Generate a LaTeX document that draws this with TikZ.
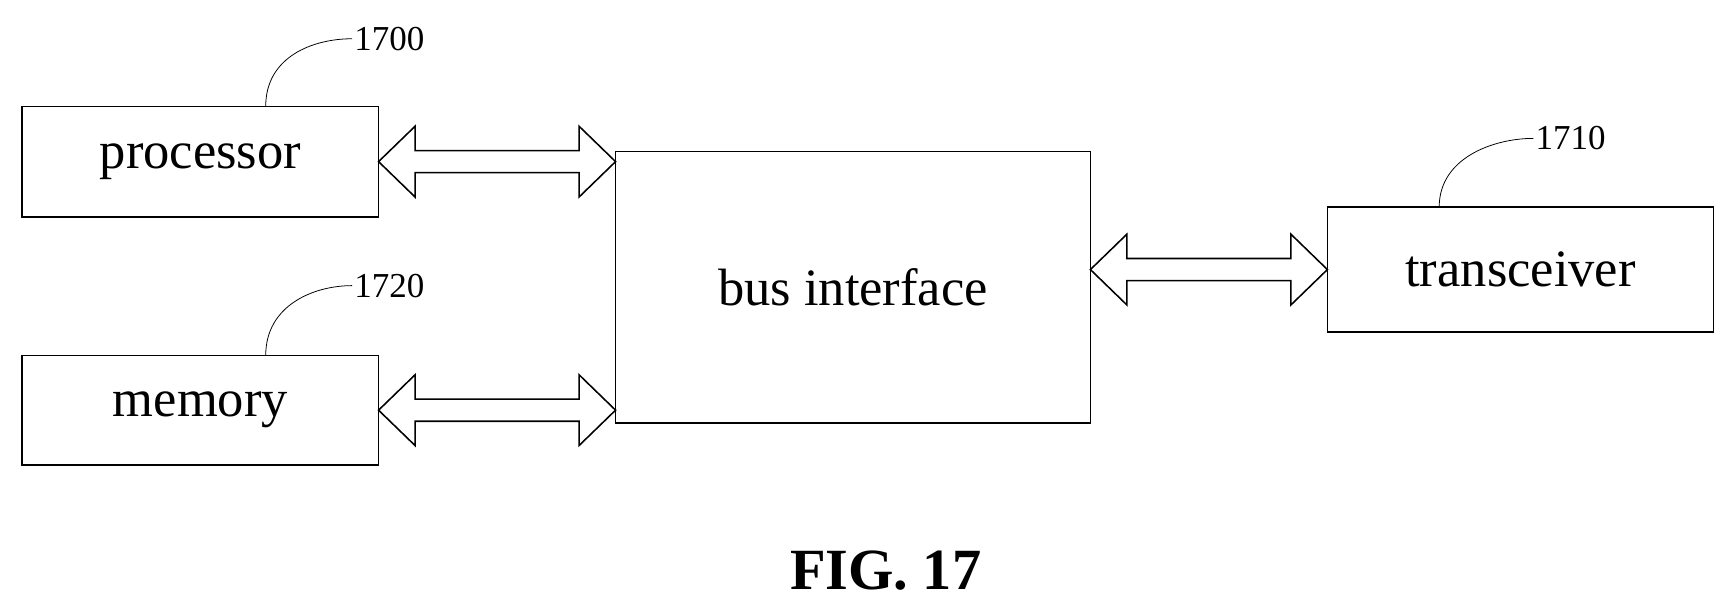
\documentclass[tikz,border=0pt]{standalone}
\usepackage{fontspec}
\setmainfont{Liberation Serif}
\usetikzlibrary{calc}
\tikzset{
  blockbox/.style={draw,thick,outer sep=0pt,inner sep=0pt,font=\fontsize{27}{30}\selectfont},
  refnum/.style={anchor=west,inner sep=1pt,font=\fontsize{18}{20}\selectfont},
  arrowline/.style={thick,line join=miter}
}
% hollow double arrow between two points on one height
\newcommand{\busarrow}[2]{%
  \draw[arrowline] (#1) -- ++(33,-32) -- ++(0,22) -- ($(#2)+(-33,-10)$) -- ++(0,-22) -- (#2)
    -- ++(-33,32) -- ++(0,-22) -- ($(#1)+(33,10)$) -- ++(0,22) -- cycle;}
\begin{document}
\begin{tikzpicture}[x=0.02cm,y=-0.02cm]
\useasboundingbox (0,0) rectangle (1560,548);
\node[blockbox,minimum width=6.44cm,minimum height=2cm] (proc) at (181,146) {processor};
\node[blockbox,minimum width=6.44cm,minimum height=1.98cm] (mem) at (181,370.5) {memory};
\node[blockbox,minimum width=8.58cm,minimum height=4.9cm] (bus) at (770.5,259.5) {bus interface};
\node[blockbox,minimum width=6.98cm,minimum height=2.26cm] (trx) at (1373.5,243.5) {transceiver};

\busarrow{proc.east}{bus.west |- proc.east}
\busarrow{mem.east}{bus.west |- mem.east}
\busarrow{bus.east |- trx.west}{trx.west}

% reference numerals
\coordinate (n1) at (318,35);
\coordinate (n2) at (318,258);
\coordinate (n3) at (1385,125);
\draw[thin] ($(proc.north west)+(220,0)$) .. controls +(0,-45) and +(-35,0) .. (n1);
\draw[thin] ($(mem.north west)+(220,0)$) .. controls +(0,-45) and +(-35,0) .. (n2);
\draw[thin] ($(trx.north west)+(101,0)$) .. controls +(0,-45) and +(-35,0) .. (n3);
\node[refnum] (l1) at (n1) {1700};
\node[refnum] (l2) at (n2) {1720};
\node[refnum] (l3) at (n3) {1710};

\node[font=\fontsize{30}{34}\selectfont\bfseries] (fig) at (800,515) {FIG. 17};
\end{tikzpicture}
\end{document}
